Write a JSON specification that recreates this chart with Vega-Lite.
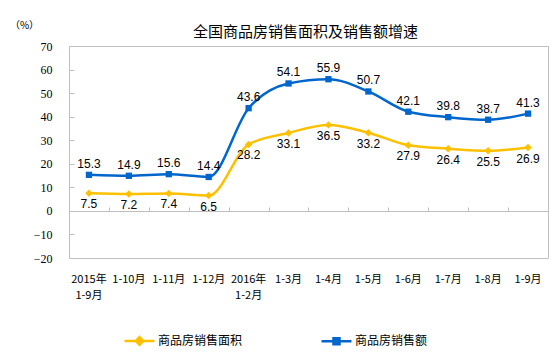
{
  "$schema": "https://vega.github.io/schema/vega-lite/v6.json",
  "width": 479,
  "height": 212,
  "autosize": {"type": "none"},
  "padding": {"left": 69, "top": 46, "right": 6, "bottom": 97},
  "background": "white",
  "config": {"view": {"stroke": "#BFBFBF", "strokeWidth": 1}},
  "title": {"text": "全国商品房销售面积及销售额增速", "font": "Noto Sans CJK SC", "fontSize": 15, "fontWeight": "normal", "color": "#000000", "anchor": "middle", "offset": -20, "dx": -3},
  "data": {"values": [
    {"period": "2015年 1-9月", "series": "商品房销售面积", "value": 7.5},
    {"period": "1-10月", "series": "商品房销售面积", "value": 7.2},
    {"period": "1-11月", "series": "商品房销售面积", "value": 7.4},
    {"period": "1-12月", "series": "商品房销售面积", "value": 6.5},
    {"period": "2016年 1-2月", "series": "商品房销售面积", "value": 28.2},
    {"period": "1-3月", "series": "商品房销售面积", "value": 33.1},
    {"period": "1-4月", "series": "商品房销售面积", "value": 36.5},
    {"period": "1-5月", "series": "商品房销售面积", "value": 33.2},
    {"period": "1-6月", "series": "商品房销售面积", "value": 27.9},
    {"period": "1-7月", "series": "商品房销售面积", "value": 26.4},
    {"period": "1-8月", "series": "商品房销售面积", "value": 25.5},
    {"period": "1-9月", "series": "商品房销售面积", "value": 26.9},
    {"period": "2015年 1-9月", "series": "商品房销售额", "value": 15.3},
    {"period": "1-10月", "series": "商品房销售额", "value": 14.9},
    {"period": "1-11月", "series": "商品房销售额", "value": 15.6},
    {"period": "1-12月", "series": "商品房销售额", "value": 14.4},
    {"period": "2016年 1-2月", "series": "商品房销售额", "value": 43.6},
    {"period": "1-3月", "series": "商品房销售额", "value": 54.1},
    {"period": "1-4月", "series": "商品房销售额", "value": 55.9},
    {"period": "1-5月", "series": "商品房销售额", "value": 50.7},
    {"period": "1-6月", "series": "商品房销售额", "value": 42.1},
    {"period": "1-7月", "series": "商品房销售额", "value": 39.8},
    {"period": "1-8月", "series": "商品房销售额", "value": 38.7},
    {"period": "1-9月", "series": "商品房销售额", "value": 41.3}
  ]},
  "encoding": {
    "y": {
      "field": "value", "type": "quantitative",
      "scale": {"domain": [-20, 70], "nice": false, "zero": false},
      "axis": {
        "values": [-20, -10, 0, 10, 20, 30, 40, 50, 60, 70],
        "grid": false, "domain": false,
        "tickSize": -5, "tickColor": "#BFBFBF", "tickWidth": 1,
        "labelFont": "Liberation Serif", "labelFontSize": 12, "labelColor": "#000000",
        "labelPadding": 22,
        "title": "（%）", "titleAngle": 0, "titleX": -45, "titleY": -21,
        "titleAlign": "center", "titleBaseline": "middle",
        "titleFont": "Noto Sans CJK SC", "titleFontSize": 10, "titleFontWeight": "normal", "titleColor": "#000000"
      }
    },
    "color": {
      "field": "series", "type": "nominal",
      "scale": {"domain": ["商品房销售面积", "商品房销售额"], "range": ["#FFC000", "#0066CC"]},
      "legend": {
        "orient": "none", "legendX": 54, "legendY": 278, "direction": "horizontal",
        "title": null, "padding": 0,
        "labelFont": "Noto Sans CJK SC", "labelFontSize": 12, "labelColor": "#000000",
        "labelOffset": 2, "columnPadding": 73,
        "symbolSize": 900, "symbolStrokeWidth": 2.5,
        "encode": {"symbols": {"update": {
          "shape": {"signal": "datum.value === '商品房销售面积' ? 'M-1,0L1,0M0,-0.25L0.25,0L0,0.25L-0.25,0Z' : 'M-1,0L1,0M-0.2,-0.2L0.2,-0.2L0.2,0.2L-0.2,0.2Z'"},
          "fill": {"signal": "datum.value === '商品房销售面积' ? '#FFC000' : '#0066CC'"},
          "stroke": {"signal": "datum.value === '商品房销售面积' ? '#FFC000' : '#0066CC'"},
          "fillOpacity": {"value": 1},
          "strokeOpacity": {"value": 1}
        }}}
      }
    }
  },
  "resolve": {"axis": {"x": "independent"}},
  "layer": [
    {
      "mark": {"type": "line", "strokeWidth": 2.5, "interpolate": "monotone"},
      "encoding": {
        "x": {"field": "period", "type": "ordinal", "sort": null,
          "scale": {"type": "band", "paddingInner": 0, "paddingOuter": 0},
          "axis": {"orient": "bottom", "title": null, "domain": false, "ticks": false, "labelAngle": 0,
            "labelExpr": "split(datum.value, ' ')", "labelLineHeight": 16,
            "labelFont": "Noto Sans CJK SC", "labelFontSize": 11, "labelColor": "#000000",
            "labelPadding": 15, "labelBaseline": "top"}}
      }
    },
    {
      "transform": [{"filter": "datum.series === '商品房销售面积'"}],
      "mark": {"type": "point", "shape": "diamond", "filled": true, "size": 55, "opacity": 1},
      "encoding": {
        "x": {"field": "period", "type": "ordinal", "sort": null,
          "scale": {"type": "band", "paddingInner": 0, "paddingOuter": 0},
          "axis": {"orient": "top", "offset": -165, "title": null, "labels": false,
            "domain": true, "domainColor": "#BFBFBF", "domainWidth": 1,
            "ticks": true, "tickBand": "extent", "tickSize": 4, "tickColor": "#BFBFBF", "tickWidth": 1}}
      }
    },
    {
      "transform": [{"filter": "datum.series === '商品房销售额'"}],
      "mark": {"type": "point", "shape": "square", "filled": true, "size": 40, "opacity": 1},
      "encoding": {
        "x": {"field": "period", "type": "ordinal", "sort": null, "axis": null}
      }
    },
    {
      "transform": [{"filter": "datum.series === '商品房销售面积'"}],
      "mark": {"type": "text", "baseline": "middle", "dy": 11, "font": "Liberation Sans", "fontSize": 12, "color": "#000000"},
      "encoding": {
        "x": {"field": "period", "type": "ordinal", "sort": null, "axis": null},
        "text": {"field": "value", "type": "quantitative", "format": ".1f"},
        "color": {"value": "#000000"}
      }
    },
    {
      "transform": [{"filter": "datum.series === '商品房销售额'"}],
      "mark": {"type": "text", "baseline": "middle", "dy": -11, "font": "Liberation Sans", "fontSize": 12, "color": "#000000"},
      "encoding": {
        "x": {"field": "period", "type": "ordinal", "sort": null, "axis": null},
        "text": {"field": "value", "type": "quantitative", "format": ".1f"},
        "color": {"value": "#000000"}
      }
    }
  ]
}
